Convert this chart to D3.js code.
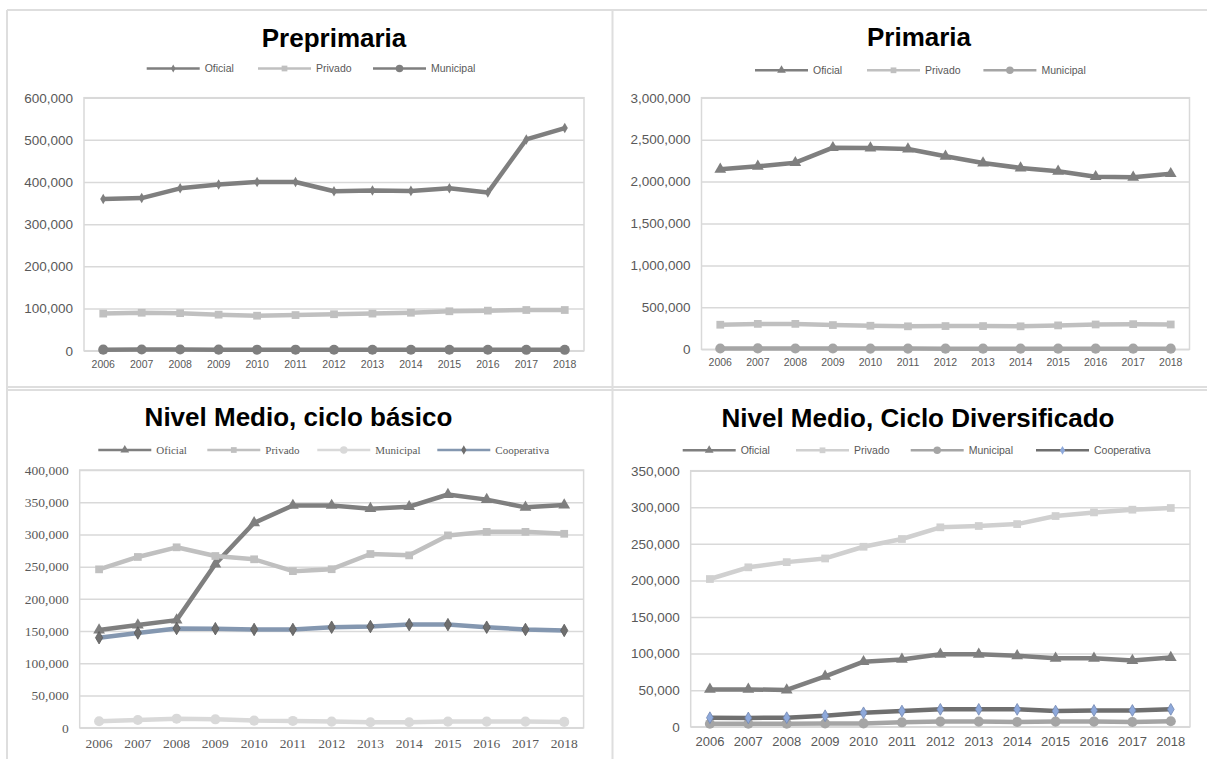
<!DOCTYPE html>
<html>
<head>
<meta charset="utf-8">
<script src="https://cdnjs.cloudflare.com/ajax/libs/d3/7.8.5/d3.min.js"></script>
<style>
  body { margin: 0; background: #fff; }
</style>
</head>
<body>
<script>

///// Data

var years = ['2006', '2007', '2008', '2009', '2010', '2011', '2012', '2013', '2014', '2015', '2016', '2017', '2018'];

// Preprimaria
var preOficial   = [360000, 362000, 385000, 394000, 400000, 400000, 378000, 380000, 379000, 385000, 375000, 501000, 528000];
var prePrivado   = [88000, 90000, 89000, 85500, 83000, 84500, 86500, 88000, 90000, 93500, 95000, 96500, 96500];
var preMunicipal = [2500, 2800, 2800, 2500, 2400, 2400, 2300, 2200, 2300, 2300, 2200, 2100, 2100];
var preTicks     = [0, 100000, 200000, 300000, 400000, 500000, 600000];

// Primaria
var priOficial   = [2146000, 2182000, 2225000, 2404000, 2400000, 2388000, 2301000, 2221000, 2162000, 2122000, 2058000, 2051000, 2094000];
var priPrivado   = [293000, 303000, 303000, 289000, 281000, 274000, 277000, 277000, 274000, 285000, 296000, 300000, 296000];
var priMunicipal = [10000, 11000, 10000, 9000, 8500, 8500, 8000, 8000, 8000, 8000, 8000, 8000, 8000];
var priTicks     = [0, 500000, 1000000, 1500000, 2000000, 2500000, 3000000];

// Nivel Medio, ciclo basico
var basOficial     = [151600, 159400, 167000, 254000, 318000, 345000, 345000, 340000, 343000, 362000, 354000, 342000, 345600];
var basPrivado     = [245800, 265000, 280000, 266500, 261400, 243000, 246000, 269600, 267500, 298500, 304000, 304000, 301000];
var basMunicipal   = [10000, 12000, 14000, 13000, 11000, 10500, 9500, 8500, 8500, 9500, 9500, 9500, 9000];
var basCooperativa = [139700, 147000, 154000, 153700, 152500, 152500, 156000, 157000, 160000, 160000, 156000, 152500, 151000];
var basTicks       = [0, 50000, 100000, 150000, 200000, 250000, 300000, 350000, 400000];

// Nivel Medio, ciclo diversificado
var divOficial     = [51000, 51000, 50200, 68900, 88900, 92000, 99000, 99000, 97000, 93500, 93500, 90500, 94600];
var divPrivado     = [201900, 217900, 225000, 230000, 246000, 256600, 272600, 274400, 277000, 288000, 293000, 296700, 299000];
var divMunicipal   = [4000, 4000, 4200, 4300, 4500, 6000, 7000, 7000, 6500, 7000, 7000, 6500, 7500];
var divCooperativa = [12300, 12000, 12300, 15000, 19000, 21400, 23700, 23700, 23700, 21400, 22200, 22200, 23700];
var divTicks       = [0, 50000, 100000, 150000, 200000, 250000, 300000, 350000];


///// Layout

var SANS = '"Liberation Sans", Arial, sans-serif';
var SERIF = '"Liberation Serif", "Times New Roman", serif';

var panels = [
  {
    title: 'Preprimaria', titleX: 334, titleY: 46.5,
    box: {x0: 84, x1: 584, y0: 97.7, y1: 350.7},
    ticks: preTicks, font: SANS, yFont: 13.5, xFont: 10.5, xPad: 10,
    legendY: 68.5, legendX: [146.7, 258, 373], legendFont: 10.5,
    series: [
      {name: 'Oficial', values: preOficial, color: '#7f7f7f', width: 4.5, symbol: d3.symbolDiamond, size: 32, mColor: '#7f7f7f'},
      {name: 'Privado', values: prePrivado, color: '#c0c0c0', width: 4.5, symbol: d3.symbolSquare, size: 60, mColor: '#c0c0c0'},
      {name: 'Municipal', values: preMunicipal, color: '#7f7f7f', width: 4.5, symbol: d3.symbolCircle, size: 80, mColor: '#7f7f7f'}
    ]
  },
  {
    title: 'Primaria', titleX: 919, titleY: 46,
    box: {x0: 701.5, x1: 1189.5, y0: 97.7, y1: 349.3},
    ticks: priTicks, font: SANS, yFont: 13.5, xFont: 10.5, xPad: 9,
    legendY: 70.3, legendX: [755, 867, 983.4], legendFont: 10.5,
    series: [
      {name: 'Oficial', values: priOficial, color: '#7f7f7f', width: 4.5, symbol: d3.symbolTriangle, size: 60, mColor: '#7f7f7f'},
      {name: 'Privado', values: priPrivado, color: '#c0c0c0', width: 4.5, symbol: d3.symbolSquare, size: 60, mColor: '#c0c0c0'},
      {name: 'Municipal', values: priMunicipal, color: '#a5a5a5', width: 4.5, symbol: d3.symbolCircle, size: 80, mColor: '#a5a5a5'}
    ]
  },
  {
    title: 'Nivel Medio, ciclo básico', titleX: 298.5, titleY: 426,
    box: {x0: 79.7, x1: 583.6, y0: 470, y1: 727.7},
    ticks: basTicks, font: SERIF, yFont: 13.5, xFont: 13.5, xPad: 10.5,
    legendY: 450, legendX: [98.3, 207.3, 317.3, 437.3], legendFont: 11,
    series: [
      {name: 'Oficial', values: basOficial, color: '#7f7f7f', width: 4.5, symbol: d3.symbolTriangle, size: 60, mColor: '#7f7f7f'},
      {name: 'Privado', values: basPrivado, color: '#c0c0c0', width: 4.5, symbol: d3.symbolSquare, size: 60, mColor: '#c0c0c0'},
      {name: 'Municipal', values: basMunicipal, color: '#d9d9d9', width: 4.5, symbol: d3.symbolCircle, size: 80, mColor: '#d9d9d9'},
      {name: 'Cooperativa', values: basCooperativa, color: '#8497b0', width: 4.5, symbol: d3.symbolDiamond, size: 45, mColor: '#6f6f6f'}
    ]
  },
  {
    title: 'Nivel Medio, Ciclo Diversificado', titleX: 918, titleY: 427,
    box: {x0: 690.7, x1: 1190, y0: 470.7, y1: 726.7},
    ticks: divTicks, font: SANS, yFont: 13.5, xFont: 13, xPad: 10,
    legendY: 450.3, legendX: [682.7, 796, 910.7, 1036], legendFont: 10.5,
    series: [
      {name: 'Oficial', values: divOficial, color: '#7f7f7f', width: 4.5, symbol: d3.symbolTriangle, size: 60, mColor: '#7f7f7f'},
      {name: 'Privado', values: divPrivado, color: '#d0d0d0', width: 4.5, symbol: d3.symbolSquare, size: 60, mColor: '#d0d0d0'},
      {name: 'Municipal', values: divMunicipal, color: '#a5a5a5', width: 4.5, symbol: d3.symbolCircle, size: 80, mColor: '#a5a5a5'},
      {name: 'Cooperativa', values: divCooperativa, color: '#6f6f6f', width: 4.5, symbol: d3.symbolDiamond, size: 40, mColor: '#8ea9db'}
    ]
  }
];

var svg = d3.select('body')
    .append('svg')
        .attr('width', 1207)
        .attr('height', 759);

// Table cell borders around the four charts
var borders = [
  [7, 10, 1207, 10],
  [7, 10, 7, 759],
  [612.5, 10, 612.5, 759],
  [7, 387, 1207, 387],
  [7, 390, 1207, 390]
];
svg.selectAll('line.cell')
    .data(borders)
    .enter().append('line')
        .attr('class', 'cell')
        .attr('x1', function(d) { return d[0]; })
        .attr('y1', function(d) { return d[1]; })
        .attr('x2', function(d) { return d[2]; })
        .attr('y2', function(d) { return d[3]; })
        .attr('stroke', '#dedede')
        .attr('stroke-width', 2);


panels.forEach(drawPanel);

function drawPanel(p) {
    var g = svg.append('g');
    var b = p.box;

    var x = d3.scaleBand().domain(years).range([b.x0, b.x1]);
    var y = d3.scaleLinear()
        .domain([0, p.ticks[p.ticks.length - 1]])
        .range([b.y1, b.y0]);
    var cx = function(d, i) { return x(years[i]) + x.bandwidth() / 2; };

    // Gridlines + Y labels
    var yAxis = g.append('g')
        .attr('transform', 'translate(' + b.x0 + ',0)')
        .call(d3.axisLeft(y)
            .tickValues(p.ticks)
            .tickSizeInner(-(b.x1 - b.x0))
            .tickSizeOuter(0)
            .tickPadding(11)
            .tickFormat(d3.format(',')));
    yAxis.select('.domain').remove();
    yAxis.selectAll('line').attr('stroke', '#d9d9d9').attr('stroke-width', 1.5);
    yAxis.selectAll('text')
        .attr('fill', '#595959')
        .style('font-family', p.font)
        .style('font-size', p.yFont + 'px');

    // Plot area border
    g.append('rect')
        .attr('x', b.x0).attr('y', b.y0)
        .attr('width', b.x1 - b.x0).attr('height', b.y1 - b.y0)
        .attr('fill', 'none')
        .attr('stroke', '#d9d9d9')
        .attr('stroke-width', 1.5);

    // X labels
    var xAxis = g.append('g')
        .attr('transform', 'translate(0,' + b.y1 + ')')
        .call(d3.axisBottom(x).tickSize(0).tickPadding(p.xPad));
    xAxis.select('.domain').remove();
    xAxis.selectAll('text')
        .attr('fill', '#595959')
        .style('font-family', p.font)
        .style('font-size', p.xFont + 'px');

    // Lines and markers
    var line = d3.line()
        .x(cx)
        .y(function(d) { return y(d); });

    p.series.forEach(function(s) {
        g.append('path')
            .datum(s.values)
            .attr('fill', 'none')
            .attr('stroke', s.color)
            .attr('stroke-width', s.width)
            .attr('stroke-linejoin', 'round')
            .attr('d', line);

        g.selectAll(null)
            .data(s.values)
            .enter().append('path')
                .attr('transform', function(d, i) {
                    return 'translate(' + cx(d, i) + ',' + y(d) + ')';
                })
                .attr('d', d3.symbol().type(s.symbol).size(s.size))
                .attr('fill', s.mColor)
                .attr('stroke', s.mColor === s.color ? 'none' : d3.color(s.mColor).darker(0.6))
                .attr('stroke-width', 0.8);
    });

    // Legend
    p.series.forEach(function(s, i) {
        var lx = p.legendX[i];
        var ly = p.legendY;
        g.append('line')
            .attr('x1', lx).attr('x2', lx + 53)
            .attr('y1', ly).attr('y2', ly)
            .attr('stroke', s.color)
            .attr('stroke-width', 2.5);
        g.append('path')
            .attr('transform', 'translate(' + (lx + 26.5) + ',' + ly + ')')
            .attr('d', d3.symbol().type(s.symbol).size(s.size * 0.55))
            .attr('fill', s.mColor);
        g.append('text')
            .attr('x', lx + 58)
            .attr('y', ly)
            .attr('dy', '0.35em')
            .attr('fill', '#595959')
            .style('font-family', p.font)
            .style('font-size', p.legendFont + 'px')
            .text(s.name);
    });

    // Title
    g.append('text')
        .attr('x', p.titleX)
        .attr('y', p.titleY)
        .attr('text-anchor', 'middle')
        .attr('fill', '#000')
        .style('font-family', SANS)
        .style('font-weight', 'bold')
        .style('font-size', '26px')
        .text(p.title);
}

</script>
</body>
</html>
